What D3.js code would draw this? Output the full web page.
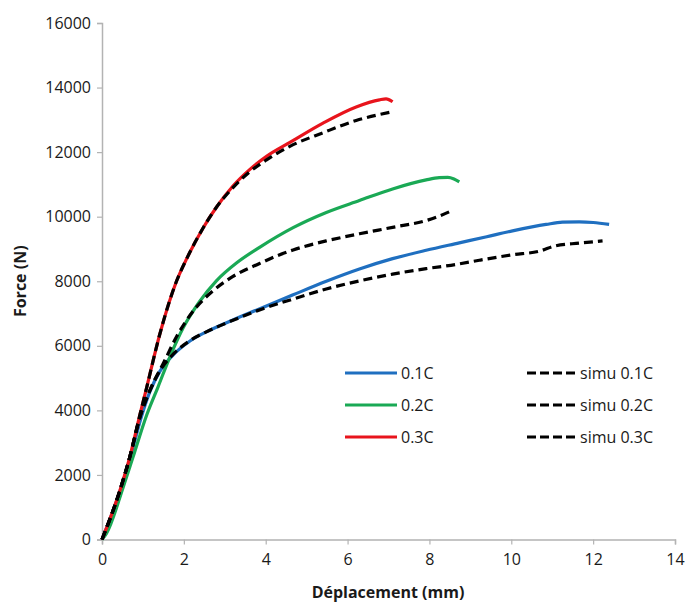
<!DOCTYPE html>
<html>
<head>
<meta charset="utf-8">
<script src="https://cdn.jsdelivr.net/npm/d3@7"></script>
<style>
  body { margin: 0; background: #fff; }
  svg { display: block; font-family: "Open Sans", "Liberation Sans", sans-serif; }
</style>
</head>
<body>
<svg id="chart" width="687" height="603"></svg>
<script>
// ---- data (displacement mm, force N) ----
const xTicks = [0, 2, 4, 6, 8, 10, 12, 14];
const yTicks = [0, 2000, 4000, 6000, 8000, 10000, 12000, 14000, 16000];

const exp01 = [[0,0],[0.44,1500],[0.68,2480],[0.95,3750],[1.17,4580],[1.41,5200],[1.74,5720],[2.15,6150],[2.63,6480],[3.2,6800],[3.8,7120],[4.67,7580],[5.48,8000],[6.29,8380],[7.1,8700],[7.92,8960],[8.73,9190],[9.4,9380],[10.03,9560],[10.85,9760],[11.25,9830],[11.66,9840],[12.0,9820],[12.39,9760]];
const exp02 = [[0,0],[0.11,190],[0.52,1630],[0.76,2560],[1.09,3850],[1.37,4730],[1.66,5660],[1.98,6550],[2.39,7380],[2.8,8020],[3.3,8580],[3.85,9050],[4.67,9660],[5.48,10130],[6.29,10500],[7.1,10860],[7.92,11140],[8.24,11210],[8.45,11220],[8.6,11170],[8.73,11080]];
const exp03 = [[0,0],[0.44,1530],[0.68,2560],[0.93,3880],[1.09,4700],[1.41,6350],[1.82,8000],[2.07,8700],[2.47,9650],[2.8,10300],[3.2,10950],[3.6,11450],[4.02,11870],[4.59,12300],[5.4,12900],[6.21,13400],[6.78,13620],[6.94,13650],[7.1,13560]];
const sim01 = [[0,0],[0.44,1530],[0.68,2560],[0.93,3800],[1.17,4620],[1.41,5220],[1.74,5740],[2.15,6160],[2.63,6480],[3.2,6790],[3.8,7090],[4.67,7450],[5.48,7760],[6.29,8010],[7.1,8220],[7.92,8390],[8.65,8520],[9.22,8650],[10.03,8820],[10.68,8930],[11.09,9100],[11.66,9180],[12.23,9250]];
const sim02 = [[0,0],[0.44,1530],[0.68,2560],[0.93,3800],[1.25,4840],[1.5,5460],[1.82,6280],[2.23,7080],[2.71,7700],[3.2,8150],[3.85,8550],[4.26,8780],[4.67,8970],[5.48,9250],[6.29,9470],[7.1,9670],[7.92,9880],[8.2,10000],[8.5,10160]];
const sim03 = [[0,0],[0.44,1530],[0.68,2560],[0.93,3880],[1.09,4700],[1.41,6350],[1.82,8000],[2.07,8700],[2.47,9650],[2.8,10300],[3.2,10900],[3.6,11380],[4.02,11760],[4.59,12180],[5.4,12600],[6.21,12980],[7.06,13240]];

const seriesNames = ["0.1C", "0.2C", "0.3C", "simu 0.1C", "simu 0.2C", "simu 0.3C"];
const seriesData = [exp01, exp02, exp03, sim01, sim02, sim03];
const seriesColors = ["#1f6fc0", "#1aa955", "#e8141c", "#000", "#000", "#000"];
const seriesDashed = [false, false, false, true, true, true];

// ---- layout ----
const svg = d3.select("#chart");
const x = d3.scaleLinear().domain([0, 14]).range([102, 675]);
const y = d3.scaleLinear().domain([0, 16000]).range([539.5, 23]);
const axisColor = "#b3b3b3";

// axes
const gx = svg.append("g").attr("transform", `translate(0,${y(0)})`)
  .call(d3.axisBottom(x).tickValues(xTicks).tickSize(5).tickPadding(9).tickFormat(d3.format("d")));
const gy = svg.append("g").attr("transform", `translate(${x(0)},0)`)
  .call(d3.axisLeft(y).tickValues(yTicks).tickSize(5).tickPadding(6).tickFormat(d3.format("d")));
[gx, gy].forEach(g => {
  g.select(".domain").attr("stroke", axisColor).attr("stroke-width", 1.5);
  g.selectAll(".tick line").attr("stroke", axisColor).attr("stroke-width", 1.2);
  g.selectAll(".tick text").attr("fill", "#1a1a1a").attr("font-size", 16)
    .attr("font-family", "'Open Sans', 'Liberation Sans', sans-serif");
});

// axis titles
svg.append("text").attr("x", 388).attr("y", 598).attr("text-anchor", "middle")
  .attr("font-size", 16).attr("font-weight", "bold").attr("fill", "#1a1a1a").text("Déplacement (mm)");
svg.append("text").attr("transform", `translate(26,${(y(0)+y(16000))/2}) rotate(-90)`)
  .attr("text-anchor", "middle").attr("font-size", 16).attr("font-weight", "bold").attr("fill", "#1a1a1a").text("Force (N)");

// lines
const line = d3.line().x(d => x(d[0])).y(d => y(d[1])).curve(d3.curveMonotoneX);
[0, 1, 2, 3, 4, 5].forEach(i => {
  svg.append("path").datum(seriesData[i])
    .attr("fill", "none")
    .attr("stroke", seriesColors[i])
    .attr("stroke-width", 3.2)
    .attr("stroke-linejoin", "round")
    .attr("stroke-dasharray", seriesDashed[i] ? "9,5" : null)
    .attr("d", line);
});

// legend
const legRows = [373, 405, 437];
const legCols = [[345, 397, 401], [527, 578, 580]];
seriesNames.forEach((name, i) => {
  const col = legCols[Math.floor(i / 3)];
  const ry = legRows[i % 3];
  svg.append("line").attr("x1", col[0]).attr("x2", col[1]).attr("y1", ry).attr("y2", ry)
    .attr("stroke", seriesColors[i]).attr("stroke-width", 3.2)
    .attr("stroke-dasharray", seriesDashed[i] ? "9,4" : null);
  svg.append("text").attr("x", col[2]).attr("y", ry).attr("dy", "0.35em")
    .attr("font-size", 16).attr("fill", "#1a1a1a").text(name);
});
</script>
</body>
</html>
